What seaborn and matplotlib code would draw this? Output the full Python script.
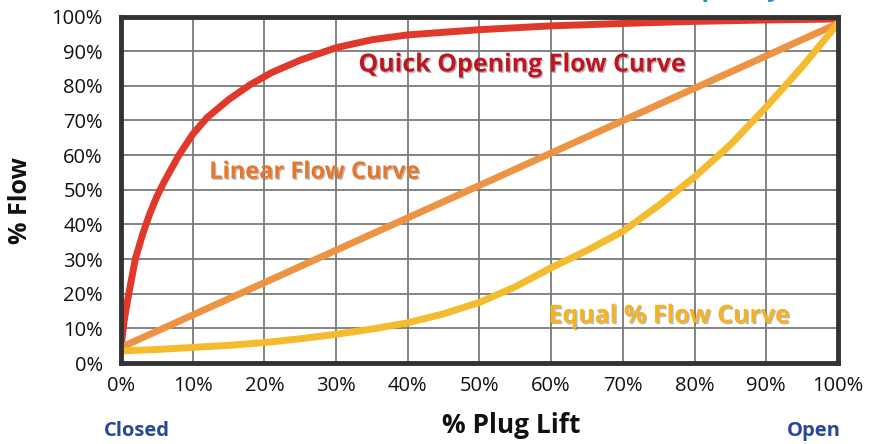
import pandas as pd
import matplotlib.pyplot as plt
import matplotlib.patheffects as pe
import seaborn as sns

# valori (% corsa otturatore -> % portata)
quick_x = [0, 0.5, 1, 2, 3, 4, 5, 6, 8, 10, 12, 15, 18, 21, 25, 30, 35, 40, 50, 60, 70, 80, 90, 100]
quick_y = [4.5, 13, 19, 30, 37, 43, 48, 52.2, 59.7, 66, 70.8, 76, 80.3, 83.8, 87.4, 91, 93.3, 94.7, 96.2, 97.3, 98, 98.6, 99, 99.3]

linear_x = [0, 100]
linear_y = [4.5, 98]

equal_x = [0, 5, 10, 15, 20, 25, 30, 35, 40, 45, 50, 55, 60, 65, 70, 75, 80, 85, 90, 95, 100]
equal_y = [3.5, 3.9, 4.5, 5.1, 5.9, 7, 8.3, 9.8, 11.6, 14.2, 17.5, 22, 27.5, 32.5, 38, 45.5, 53.7, 63, 73.9, 85.5, 98]

ticks = list(range(0, 101, 10))
tick_labels = [f'{t}%' for t in ticks]

sns.set_theme(style="whitegrid")
plt.rcParams['font.family'] = ['Open Sans', 'DejaVu Sans']

fig = plt.figure(figsize=(8.74, 4.44), dpi=100)
ax = fig.add_axes([0.1384, 0.1824, 0.8204, 0.7804])

curves = [
    (quick_x, quick_y, '#e0392b'),
    (linear_x, linear_y, '#ec9443'),
    (equal_x, equal_y, '#f4bb2e'),
]
for xs, ys, col in curves:
    df = pd.DataFrame({'lift': xs, 'flow': ys})
    sns.lineplot(data=df, x='lift', y='flow', ax=ax, color=col, linewidth=5,
                 solid_capstyle='round', solid_joinstyle='round', zorder=3)

ax.set_xlim(0, 100)
ax.set_ylim(0, 100)
ax.set_xticks(ticks)
ax.set_yticks(ticks)
ax.set_xticklabels(tick_labels, fontsize=14.5)
ax.set_yticklabels(tick_labels, fontsize=14.5)
ax.tick_params(axis='x', pad=9, length=0, colors='#111111')
ax.tick_params(axis='y', pad=13, length=0, colors='#111111')
ax.grid(True, color='#7a7a7a', linewidth=1.3)
ax.set_facecolor('white')
for s in ax.spines.values():
    s.set_visible(True)
    s.set_color('#333333')
    s.set_linewidth(3.5)
    s.set_zorder(4)

ax.set_xlabel('% Plug Lift', fontsize=19, fontweight='bold', color='#111111')
ax.set_ylabel('% Flow', fontsize=18, fontweight='bold', color='#111111')
ax.xaxis.set_label_coords(0.545, -0.14)
ax.yaxis.set_label_coords(-0.123, 0.47)

shadow = [pe.SimplePatchShadow(offset=(1, -1), shadow_rgbFace='#666666', alpha=0.45), pe.Normal()]
ax.text(56, 86, 'Quick Opening Flow Curve', color='#c0141f', fontsize=18, fontweight='bold',
        ha='center', va='center', path_effects=shadow, zorder=5)
ax.text(27, 55, 'Linear Flow Curve', color='#e8762a', fontsize=17, fontweight='bold',
        ha='center', va='center', path_effects=shadow, zorder=5)
ax.text(76.5, 13.5, 'Equal % Flow Curve', color='#f5b320', fontsize=18, fontweight='bold',
        ha='center', va='center', path_effects=shadow, zorder=5)

fig.text(137 / 874, 1 - 431 / 444, 'Closed', color='#27479a', fontsize=14.5, fontweight='bold',
         ha='center', va='center')
fig.text(814 / 874, 1 - 431 / 444, 'Open', color='#27479a', fontsize=14.5, fontweight='bold',
         ha='center', va='center')
# titolo tagliato in alto (si vedono solo le discendenti)
fig.text(782 / 874, 1 + 4 / 444, 'Flow Capacity', color='#1f9bb5', fontsize=19, fontweight='bold',
         ha='right', va='baseline')

plt.savefig('out.png', dpi=100)
plt.close()
